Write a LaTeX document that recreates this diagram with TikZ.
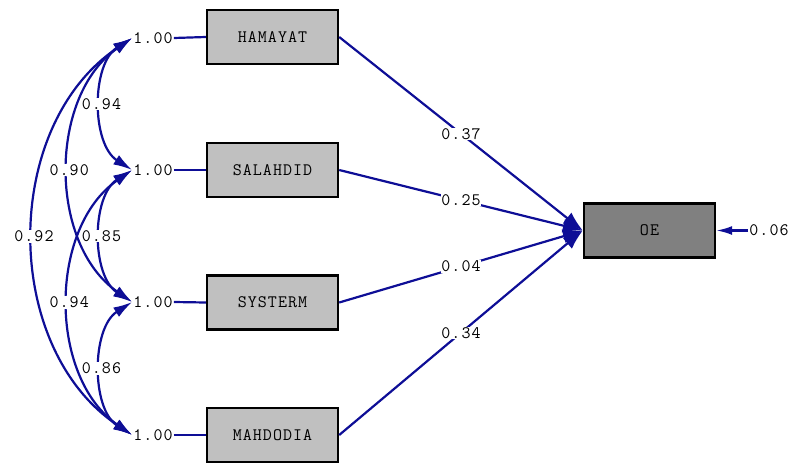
\documentclass[tikz,border=0pt]{standalone}
\usepackage{fontspec}
\newfontfamily\monofont{Latin Modern Mono}[LetterSpace=6]
\usetikzlibrary{arrows.meta}
\definecolor{pathblue}{RGB}{14,14,150}
\definecolor{boxgray}{RGB}{192,192,192}
\definecolor{darkbox}{RGB}{128,128,128}
\tikzset{
  txt/.style={font=\monofont\fontsize{17.5}{17.5}\selectfont, inner sep=1pt},
  obs/.style={txt, draw=black, line width=2.4pt, fill=boxgray, minimum width=131pt, minimum height=54pt},
  dep/.style={obs, fill=darkbox},
  lbl/.style={txt, fill=white, inner sep=0.5pt},
  conn/.style={draw=pathblue, line width=2.2pt},
  pth/.style={conn, -{Latex[length=20pt,width=14pt]}},
  cov/.style={conn, {Latex[length=19pt,width=11pt]}-{Latex[length=19pt,width=11pt]}},
}
\begin{document}
\begin{tikzpicture}[x=1pt,y=-1pt]
\useasboundingbox (0,0) rectangle (792,463);
% observed boxes
\node[obs] (h) at (272.5,37) {HAMAYAT};
\node[obs] (s) at (272.5,170) {SALAHDID};
\node[obs] (y) at (272.5,302.5) {SYSTERM};
\node[obs] (m) at (272.5,435) {MAHDODIA};
\node[dep] (oe) at (649.5,230.5) {OE};
% variances
\node[txt] (v1) at (153,38) {1.00};
\node[txt] (v2) at (153,170) {1.00};
\node[txt] (v3) at (153,302) {1.00};
\node[txt] (v4) at (153,435) {1.00};
\node[txt] (e) at (769,230.5) {0.06};
\draw[conn] (v1.east) -- (h.west);
\draw[conn] (v2.east) -- (s.west);
\draw[conn] (v3.east) -- (y.west);
\draw[conn] (v4.east) -- (m.west);
% paths
\draw[pth] (h.east) -- node[lbl, pos=0.5] {0.37} (oe.west);
\draw[pth] (s.east) -- node[lbl, pos=0.5] {0.25} (oe.west);
\draw[pth] (y.east) -- node[lbl, pos=0.5] {0.04} (oe.west);
\draw[pth] (m.east) -- node[lbl, pos=0.5] {0.34} (oe.west);
\draw[conn, -{Latex[length=16pt,width=9pt]}] (e.west) -- (oe.east);
% covariances
\draw[cov] (v1.west) .. controls +(-41,26) and +(-41,-26) .. node[lbl, pos=0.5] {0.94} (v2.west);
\draw[cov] (v1.west) .. controls +(-84,58) and +(-84,-58) .. node[lbl, pos=0.5] {0.90} (v3.west);
\draw[cov] (v1.west) .. controls +(-131,88) and +(-131,-88) .. node[lbl, pos=0.5] {0.92} (v4.west);
\draw[cov] (v2.west) .. controls +(-41,26) and +(-41,-26) .. node[lbl, pos=0.5] {0.85} (v3.west);
\draw[cov] (v2.west) .. controls +(-84,58) and +(-84,-58) .. node[lbl, pos=0.5] {0.94} (v4.west);
\draw[cov] (v3.west) .. controls +(-41,26) and +(-41,-26) .. node[lbl, pos=0.5] {0.86} (v4.west);
\end{tikzpicture}
\end{document}
